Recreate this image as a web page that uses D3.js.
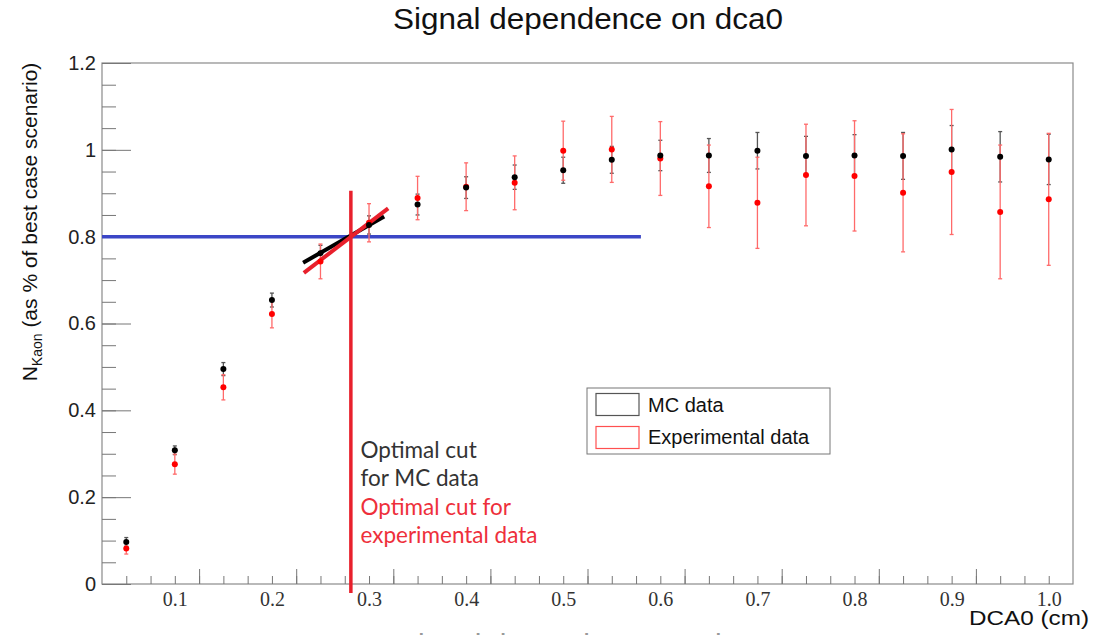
<!DOCTYPE html>
<html>
<head>
<meta charset="utf-8">
<script src="https://cdn.jsdelivr.net/npm/d3@7"></script>
<style>
  body { margin: 0; background: #fff; }
  svg { display: block; }
</style>
</head>
<body>
<svg id="chart" width="1095" height="635"></svg>
<script>
// values
const dca = [0.05, 0.1, 0.15, 0.2, 0.25, 0.3, 0.35, 0.4, 0.45, 0.5,
             0.55, 0.6, 0.65, 0.7, 0.75, 0.8, 0.85, 0.9, 0.95, 1.0];
const mcVals = [0.097, 0.308, 0.495, 0.654, 0.762, 0.827, 0.874, 0.913, 0.937, 0.953,
                0.977, 0.987, 0.987, 0.998, 0.986, 0.987, 0.986, 1.001, 0.984, 0.978];
const mcErr = [0.010, 0.010, 0.015, 0.016, 0.018, 0.021, 0.024, 0.025, 0.028, 0.030,
               0.031, 0.035, 0.039, 0.042, 0.045, 0.048, 0.054, 0.055, 0.058, 0.058];
const expVals = [0.082, 0.276, 0.453, 0.622, 0.743, 0.832, 0.889, 0.915, 0.924, 0.998,
                 1.001, 0.980, 0.916, 0.878, 0.942, 0.940, 0.901, 0.949, 0.857, 0.886];
const expErr = [0.013, 0.023, 0.029, 0.032, 0.040, 0.044, 0.050, 0.055, 0.062, 0.068,
                0.076, 0.085, 0.095, 0.105, 0.117, 0.127, 0.136, 0.144, 0.154, 0.152];

const yTickVals = [0, 0.2, 0.4, 0.6, 0.8, 1.0, 1.2];
const yTickLabels = ["0", "0.2", "0.4", "0.6", "0.8", "1", "1.2"];
const xTickVals = [0.1, 0.2, 0.3, 0.4, 0.5, 0.6, 0.7, 0.8, 0.9, 1.0];
const xTickLabels = ["0.1", "0.2", "0.3", "0.4", "0.5", "0.6", "0.7", "0.8", "0.9", "1.0"];

// annotation: 80% line, optimal cut, tangent segments
const targetLevel = 0.8;
const targetLineEnd = 0.58;
const optimalCut = 0.2813;
const cutSpan = [-0.021, 0.906];
const mcTangent = [[0.2321, 0.740], [0.3156, 0.8466]];
const expTangent = [[0.2329, 0.7167], [0.3197, 0.8652]];

const width = 1095;
const height = 635;
const margin = { top: 63, right: 22, bottom: 51, left: 102 };
const innerWidth = width - margin.left - margin.right;
const innerHeight = height - margin.top - margin.bottom;

const svg = d3.select("#chart");

const xScale = d3.scaleLinear().domain([0.025, 1.025]).range([0, innerWidth]);
const yScale = d3.scaleLinear().domain([0, 1.2]).range([innerHeight, 0]);

const g = svg.append("g").attr("transform", `translate(${margin.left}, ${margin.top})`);

// title
svg.append("text")
  .attr("x", 393).attr("y", 29)
  .attr("textLength", 390).attr("lengthAdjust", "spacingAndGlyphs")
  .style("font-family", "'Liberation Sans', Arial, sans-serif")
  .style("font-size", "30px")
  .attr("fill", "#111")
  .text("Signal dependence on dca0");

// cut-off title of the next slide, only the tops peek in at the bottom
svg.append("text")
  .attr("x", 398).attr("y", 655)
  .style("font-family", "'Liberation Sans', Arial, sans-serif")
  .style("font-size", "30px")
  .attr("fill", "#999")
  .text("Signal dependence on dca0");

// frame
g.append("rect")
  .attr("width", innerWidth).attr("height", innerHeight)
  .attr("fill", "none").attr("stroke", "#8a8a8a").attr("stroke-width", 1.2);

// y axis: minor and major ticks pointing inward
const yMinor = d3.axisLeft(yScale)
  .tickValues(d3.range(0, 1.2001, 0.05))
  .tickSizeInner(-14).tickSizeOuter(0);
const yMin = g.append("g").call(yMinor).call((a) => a.select(".domain").remove());
yMin.selectAll("text").remove();
yMin.selectAll("line").attr("stroke", "#777");

const yMajor = d3.axisLeft(yScale)
  .tickValues(yTickVals)
  .tickSizeInner(-29).tickSizeOuter(0).tickPadding(6)
  .tickFormat((d, i) => yTickLabels[i]);
const yAx = g.append("g").call(yMajor).call((a) => a.select(".domain").remove());
yAx.selectAll("line").attr("stroke", "#777");
yAx.selectAll("text")
  .style("font-family", "'Liberation Sans', Arial, sans-serif")
  .style("font-size", "20px").attr("fill", "#222");

// x axis: minor ticks every 0.025, longer ones offset by half a bin
const xMinor = d3.axisBottom(xScale)
  .tickValues(d3.range(0.05, 1.0001, 0.025))
  .tickSizeInner(-8).tickSizeOuter(0);
const xMin = g.append("g").attr("transform", `translate(0, ${innerHeight})`)
  .call(xMinor).call((a) => a.select(".domain").remove());
xMin.selectAll("text").remove();
xMin.selectAll("line").attr("stroke", "#777");

const xMajor = d3.axisBottom(xScale)
  .tickValues(d3.range(0.125, 0.9251, 0.1))
  .tickSizeInner(-15).tickSizeOuter(0);
const xMaj = g.append("g").attr("transform", `translate(0, ${innerHeight})`)
  .call(xMajor).call((a) => a.select(".domain").remove());
xMaj.selectAll("text").remove();
xMaj.selectAll("line").attr("stroke", "#777");

const xLabels = d3.axisBottom(xScale)
  .tickValues(xTickVals).tickSize(0).tickPadding(8)
  .tickFormat((d, i) => xTickLabels[i]);
const xAx = g.append("g").attr("transform", `translate(0, ${innerHeight})`)
  .call(xLabels).call((a) => a.select(".domain").remove());
xAx.selectAll("text")
  .style("font-family", "'Liberation Serif', 'Times New Roman', serif")
  .style("font-size", "20px").attr("fill", "#333");

// axis titles
svg.append("text")
  .attr("x", 969).attr("y", 625)
  .attr("textLength", 120).attr("lengthAdjust", "spacingAndGlyphs")
  .style("font-family", "'Liberation Sans', Arial, sans-serif")
  .style("font-size", "21px").attr("fill", "#111")
  .text("DCA0 (cm)");

const yTitle = svg.append("text")
  .attr("transform", "translate(37, 222) rotate(-90)")
  .attr("text-anchor", "middle")
  .style("font-family", "'Liberation Sans', Arial, sans-serif")
  .style("font-size", "21px").attr("fill", "#111");
yTitle.append("tspan").text("N");
yTitle.append("tspan").attr("dy", 5).style("font-size", "14px").text("Kaon");
yTitle.append("tspan").attr("dy", -5).text(" (as % of best case scenario)");

// 80% line
g.append("line")
  .attr("x1", xScale(0.025)).attr("x2", xScale(targetLineEnd))
  .attr("y1", yScale(targetLevel)).attr("y2", yScale(targetLevel))
  .attr("stroke", "#3b46c6").attr("stroke-width", 3.5);

// error bars
const series = [
  { vals: mcVals, errs: mcErr, bar: "#555", dot: "#000" },
  { vals: expVals, errs: expErr, bar: "#ff6a6a", dot: "#ff0000" }
];

series.forEach((s) => {
  const eb = g.append("g");
  dca.forEach((x, i) => {
    const cx = xScale(x);
    const lo = yScale(s.vals[i] - s.errs[i]);
    const hi = yScale(s.vals[i] + s.errs[i]);
    eb.append("line").attr("x1", cx).attr("x2", cx).attr("y1", lo).attr("y2", hi)
      .attr("stroke", s.bar).attr("stroke-width", 1.3);
    [lo, hi].forEach((yy) => {
      eb.append("line").attr("x1", cx - 2).attr("x2", cx + 2).attr("y1", yy).attr("y2", yy)
        .attr("stroke", s.bar).attr("stroke-width", 1.3);
    });
  });
});

// tangents
const line = d3.line().x((d) => xScale(d[0])).y((d) => yScale(d[1]));
g.append("path").datum(mcTangent).attr("d", line)
  .attr("stroke", "#000").attr("stroke-width", 4).attr("fill", "none");
g.append("path").datum(expTangent).attr("d", line)
  .attr("stroke", "#e8202c").attr("stroke-width", 4).attr("fill", "none");

// points
[series[1], series[0]].forEach((s) => {
  g.append("g").selectAll("circle")
    .data(dca)
    .join("circle")
    .attr("cx", (d) => xScale(d))
    .attr("cy", (d, i) => yScale(s.vals[i]))
    .attr("r", 3)
    .attr("fill", s.dot);
});

// optimal cut
g.append("line")
  .attr("x1", xScale(optimalCut)).attr("x2", xScale(optimalCut))
  .attr("y1", yScale(cutSpan[1])).attr("y2", yScale(cutSpan[0]))
  .attr("stroke", "#e8202c").attr("stroke-width", 3.5);

const note = [
  { t: "Optimal cut", c: "#333" },
  { t: "for MC data", c: "#333" },
  { t: "Optimal cut for", c: "#ee2f3b" },
  { t: "experimental data", c: "#ee2f3b" }
];
svg.append("g").selectAll("text")
  .data(note)
  .join("text")
  .attr("x", 360.5)
  .attr("y", (d, i) => 458 + i * 28.4)
  .style("font-family", "Lato, 'Open Sans', sans-serif")
  .style("font-size", "22.5px")
  .attr("fill", (d) => d.c)
  .text((d) => d.t);

// legend
const legend = svg.append("g").attr("transform", "translate(587, 388)");
legend.append("rect").attr("width", 243).attr("height", 66)
  .attr("fill", "#fff").attr("stroke", "#777").attr("stroke-width", 1);
const legendItems = [
  { label: "MC data", c: "#555" },
  { label: "Experimental data", c: "#ff5050" }
];
legendItems.forEach((d, i) => {
  legend.append("rect")
    .attr("x", 9).attr("y", 5.5 + i * 33).attr("width", 43).attr("height", 22)
    .attr("fill", "none").attr("stroke", d.c).attr("stroke-width", 1.2);
  legend.append("text")
    .attr("x", 61).attr("y", 24 + i * 32)
    .style("font-family", "'Liberation Sans', Arial, sans-serif")
    .style("font-size", "20px").attr("fill", "#111")
    .text(d.label);
});
</script>
</body>
</html>
